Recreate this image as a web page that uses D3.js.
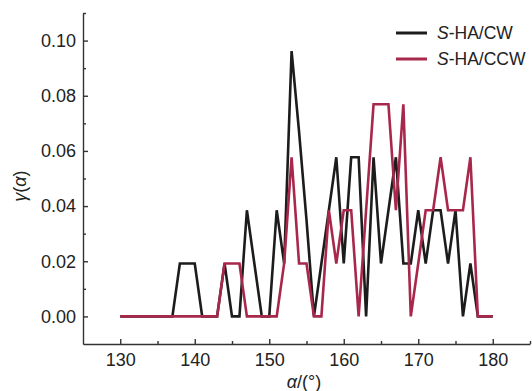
<!DOCTYPE html>
<html>
<head>
<meta charset="utf-8">
<script src="https://cdn.jsdelivr.net/npm/d3@7"></script>
<style>
  body { margin: 0; background: #fff; }
  svg { display: block; font-family: "Liberation Sans", Arial, sans-serif; }
  .axis path, .axis line { stroke: #333; stroke-width: 1.4; }
  .axis text { font-size: 18px; fill: #222; }
</style>
</head>
<body>
<div id="chart"></div>
<script>
// angle bins (degrees)
const angles = [130, 131, 132, 133, 134, 135, 136, 137, 138, 139, 140, 141, 142, 143, 144, 145, 146, 147, 148, 149,
    150, 151, 152, 153, 154, 155, 156, 157, 158, 159, 160, 161, 162, 163, 164, 165, 166, 167, 168, 169,
    170, 171, 172, 173, 174, 175, 176, 177, 178, 179, 180];

// S-HA/CW
const cwValues = [0, 0, 0, 0, 0, 0, 0, 0, 0.0192, 0.0192, 0.0192, 0, 0, 0, 0.0192, 0, 0, 0.0385, 0.0192, 0,
    0, 0.0385, 0.0192, 0.0962, 0.067, 0.035, 0, 0.0192, 0.0385, 0.0577, 0.0192, 0.0577, 0.0577, 0, 0.0577, 0.0192, 0.0385, 0.0577, 0.0192, 0.0192,
    0.0385, 0.0192, 0.0385, 0.0385, 0.0192, 0.0385, 0, 0.0192, 0, 0, 0];

// S-HA/CCW
const ccwValues = [0, 0, 0, 0, 0, 0, 0, 0, 0, 0, 0, 0, 0, 0, 0.0192, 0.0192, 0.0192, 0, 0, 0,
    0, 0, 0.0192, 0.0577, 0.0192, 0.0192, 0, 0, 0.0385, 0.0192, 0.0385, 0.0385, 0, 0.0385, 0.0769, 0.0769, 0.0769, 0.0385, 0.0769, 0,
    0.0192, 0.0385, 0.0385, 0.0577, 0.0385, 0.0385, 0.0385, 0.0577, 0, 0, 0];

const xMajor = [130, 140, 150, 160, 170, 180];
const xMinor = [135, 145, 155, 165, 175, 185];
const yMajor = [0, 0.02, 0.04, 0.06, 0.08, 0.10];
const yMinor = [0.01, 0.03, 0.05, 0.07, 0.09, 0.11];

const seriesNames = ["S-HA/CW", "S-HA/CCW"];
const colors = ["#1c1c1c", "#a8284c"];

const W = 532, H = 391;
const margin = {top: 13, right: 2, bottom: 47, left: 83};

const svg = d3.select("#chart").append("svg")
    .attr("width", W)
    .attr("height", H);

const x = d3.scaleLinear().domain([125, 185]).range([margin.left, W - margin.right]);
const y = d3.scaleLinear().domain([-0.01, 0.11]).range([H - margin.bottom, margin.top]);

// minor ticks first, then the major axis on top
svg.append("g")
    .attr("class", "axis")
    .attr("transform", `translate(0,${H - margin.bottom})`)
    .call(d3.axisBottom(x).tickValues(xMinor).tickSize(-3).tickFormat(""))
    .call(g => g.select(".domain").remove());

svg.append("g")
    .attr("class", "axis")
    .attr("transform", `translate(${margin.left},0)`)
    .call(d3.axisLeft(y).tickValues(yMinor).tickSize(-3).tickFormat(""))
    .call(g => g.select(".domain").remove());

svg.append("g")
    .attr("class", "axis")
    .attr("transform", `translate(0,${H - margin.bottom})`)
    .call(d3.axisBottom(x).tickValues(xMajor).tickSize(-5).tickSizeOuter(0).tickPadding(9));

svg.append("g")
    .attr("class", "axis")
    .attr("transform", `translate(${margin.left},0)`)
    .call(d3.axisLeft(y).tickValues(yMajor).tickSize(-5).tickSizeOuter(0).tickPadding(7)
        .tickFormat(d3.format(".2f")));

// lines
const line = d3.line()
    .x((d, i) => x(angles[i]))
    .y(d => y(d));

[cwValues, ccwValues].forEach((vals, k) => {
    svg.append("path")
        .datum(vals)
        .attr("fill", "none")
        .attr("stroke", colors[k])
        .attr("stroke-width", 2.6)
        .attr("stroke-linejoin", "miter")
        .attr("d", line);
});

// legend
const legend = svg.append("g").attr("transform", "translate(396,33)");
seriesNames.forEach((name, i) => {
    const row = legend.append("g").attr("transform", `translate(0,${i * 26})`);
    row.append("line")
        .attr("x1", 0).attr("x2", 31)
        .attr("stroke", colors[i])
        .attr("stroke-width", 3);
    const t = row.append("text")
        .attr("x", 41)
        .attr("dy", "0.35em")
        .style("font-size", "17.5px")
        .style("fill", "#222");
    t.append("tspan").style("font-style", "italic").text(name[0]);
    t.append("tspan").text(name.slice(1));
});

// axis titles
const yTitle = svg.append("text")
    .attr("transform", "translate(26,186) rotate(-90)")
    .attr("text-anchor", "middle")
    .style("font-size", "18px")
    .style("fill", "#222");
yTitle.append("tspan").style("font-style", "italic").text("γ");
yTitle.append("tspan").text("(");
yTitle.append("tspan").style("font-style", "italic").text("α");
yTitle.append("tspan").text(")");

const xTitle = svg.append("text")
    .attr("x", 304)
    .attr("y", 388)
    .attr("text-anchor", "middle")
    .style("font-size", "18px")
    .style("fill", "#222");
xTitle.append("tspan").style("font-style", "italic").text("α");
xTitle.append("tspan").text("/(°)");
</script>
</body>
</html>
